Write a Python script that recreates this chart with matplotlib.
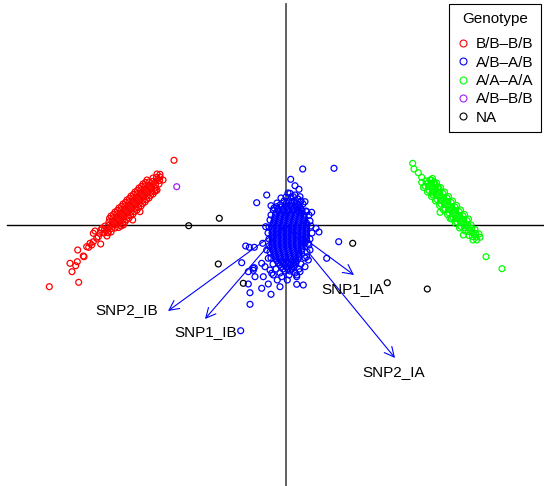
import matplotlib
matplotlib.use("Agg")
import matplotlib.pyplot as plt
from matplotlib.lines import Line2D

plt.rcParams['font.family'] = ['Liberation Sans', 'DejaVu Sans']

# ---- data: PC scores ----
red_x = [-1.82, -1.78, -1.74, -1.70, -1.66, -1.62, -1.58, -1.54, -1.50, -1.46, -1.42, -1.38, -1.34, -1.30, -1.26,
         -1.79, -1.75, -1.71, -1.67, -1.63, -1.59, -1.55, -1.51, -1.47, -1.43, -1.39, -1.35, -1.31, -1.27, -1.23,
         -1.85, -1.81, -1.77, -1.73, -1.69, -1.65, -1.61, -1.57, -1.53, -1.49, -1.45, -1.41, -1.37, -1.33, -1.29,
         -1.65, -1.61, -1.57, -1.53, -1.49, -1.45, -1.41, -1.37, -1.33, -1.29,
         -1.75, -1.71, -1.67, -1.63, -1.59, -1.55, -1.51, -1.47, -1.43, -1.39,
         -1.785, -1.745, -1.705, -1.665, -1.625, -1.585, -1.545, -1.505, -1.465, -1.425, -1.385, -1.345, -1.305, -1.265,
         -1.815, -1.775, -1.735, -1.695, -1.655, -1.615, -1.575, -1.535, -1.495, -1.455, -1.415, -1.375, -1.335, -1.295,
         -1.675, -1.635, -1.595, -1.555, -1.515, -1.475, -1.435, -1.395, -1.355, -1.315,
         -1.765, -1.725, -1.685, -1.645, -1.605, -1.565, -1.525, -1.485, -1.445, -1.405,
         -2.367, -2.073, -2.14, -2.103, -2.16, -2.087, -2.083, -2.027, -2.02, -1.973, -1.943, -1.927,
         -1.853, -1.91, -1.877, -1.84, -1.12, -1.26, -1.30, -1.46, -1.533, -1.627, -1.777,
         -1.927, -1.893, -1.96, -1.993, -1.86]
red_y = [-0.08, -0.04, 0.00, 0.04, 0.08, 0.12, 0.16, 0.20, 0.24, 0.28, 0.32, 0.36, 0.40, 0.44, 0.48,
         -0.11, -0.07, -0.03, 0.01, 0.05, 0.09, 0.13, 0.17, 0.21, 0.25, 0.29, 0.33, 0.37, 0.41, 0.45,
         -0.05, -0.01, 0.03, 0.07, 0.11, 0.15, 0.19, 0.23, 0.27, 0.31, 0.35, 0.39, 0.43, 0.47, 0.51,
         -0.01, 0.03, 0.07, 0.11, 0.15, 0.19, 0.23, 0.27, 0.31, 0.35,
         0.09, 0.13, 0.17, 0.21, 0.25, 0.29, 0.33, 0.37, 0.41, 0.45,
         -0.075, -0.035, 0.005, 0.045, 0.085, 0.125, 0.165, 0.205, 0.245, 0.285, 0.325, 0.365, 0.405, 0.445,
         -0.045, -0.005, 0.035, 0.075, 0.115, 0.155, 0.195, 0.235, 0.275, 0.315, 0.355, 0.395, 0.435, 0.475,
         -0.025, 0.015, 0.055, 0.095, 0.135, 0.175, 0.215, 0.255, 0.295, 0.335,
         0.065, 0.105, 0.145, 0.185, 0.225, 0.265, 0.305, 0.345, 0.385, 0.425,
         -0.617, -0.573, -0.467, -0.407, -0.383, -0.367, -0.25, -0.31, -0.317, -0.223, -0.20, -0.167,
         -0.19, -0.06, -0.117, -0.033, 0.647, 0.507, 0.343, 0.133, 0.05, 0.0, -0.077,
         -0.083, -0.133, -0.183, -0.217, -0.083]

blue_x = [-0.02, 0.03, 0.08,
          -0.06, -0.01, 0.04, 0.09, 0.13,
          -0.08, -0.03, 0.02, 0.07, 0.12, 0.15,
          -0.10, -0.05, 0.00, 0.05, 0.10, 0.15,
          -0.11, -0.06, -0.01, 0.04, 0.09, 0.14, 0.18,
          -0.12, -0.07, -0.02, 0.03, 0.08, 0.13, 0.18,
          -0.13, -0.08, -0.03, 0.02, 0.07, 0.12, 0.17, 0.21,
          -0.14, -0.09, -0.04, 0.01, 0.06, 0.11, 0.16, 0.20,
          -0.14, -0.09, -0.04, 0.01, 0.06, 0.11, 0.16, 0.20,
          -0.14, -0.09, -0.04, 0.01, 0.06, 0.11, 0.16, 0.20,
          -0.14, -0.09, -0.04, 0.01, 0.06, 0.11, 0.16, 0.19,
          -0.14, -0.09, -0.04, 0.01, 0.06, 0.11, 0.16,
          -0.13, -0.08, -0.03, 0.02, 0.07, 0.12, 0.16,
          -0.12, -0.07, -0.02, 0.03, 0.08, 0.13,
          -0.11, -0.06, -0.01, 0.04, 0.09, 0.13,
          -0.09, -0.04, 0.01, 0.06, 0.10,
          -0.06, -0.01, 0.04, 0.08,
          -0.03, 0.02, 0.06,
          0.005, 0.055, 0.105,
          -0.045, 0.005, 0.055, 0.105, 0.14,
          -0.075, -0.025, 0.025, 0.075, 0.125, 0.16,
          -0.105, -0.055, -0.005, 0.045, 0.095, 0.145, 0.18,
          -0.115, -0.065, -0.015, 0.035, 0.085, 0.135, 0.185,
          -0.125, -0.075, -0.025, 0.025, 0.075, 0.125, 0.175, 0.205,
          -0.135, -0.085, -0.035, 0.015, 0.065, 0.115, 0.165, 0.205,
          -0.135, -0.085, -0.035, 0.015, 0.065, 0.115, 0.165, 0.205,
          -0.135, -0.085, -0.035, 0.015, 0.065, 0.115, 0.165, 0.205,
          -0.135, -0.085, -0.035, 0.015, 0.065, 0.115, 0.165, 0.205,
          -0.135, -0.085, -0.035, 0.015, 0.065, 0.115, 0.165, 0.19,
          -0.135, -0.085, -0.035, 0.015, 0.065, 0.115, 0.16,
          -0.125, -0.075, -0.025, 0.025, 0.075, 0.125, 0.155,
          -0.115, -0.065, -0.015, 0.035, 0.085, 0.13,
          -0.10, -0.055, -0.005, 0.045, 0.095, 0.12,
          -0.075, -0.025, 0.025, 0.075, 0.10,
          -0.045, 0.005, 0.055, 0.08,
          -0.01, 0.04,
          0.00, 0.05, 0.09, 0.02,
          -0.05, 0.12, -0.09, 0.17, 0.15, -0.12, 0.20, 0.23, -0.15, -0.16, 0.24, -0.17, 0.25, 0.26, -0.18,
          -0.17, 0.24, 0.23, -0.17, -0.16, 0.21, 0.19, -0.15, -0.13, 0.15, 0.13, -0.10, -0.06, 0.09, 0.03,
          0.167, 0.48, 0.047, 0.09, 0.13, -0.193, -0.293, -0.15, 0.257, -0.203, 0.33, 0.30, 0.527,
          -0.403, -0.367, -0.317, -0.233, -0.443, 0.407, 0.107, 0.173, 0.107, -0.317, -0.377, -0.31,
          -0.227, -0.177, -0.243, -0.36, -0.377, -0.15, -0.06, -0.36, -0.453, -0.087, 0.013, -0.143,
          0.223, 0.207, 0.207, 0.19, 0.14, 0.073, 0.04, -0.093, -0.127, 0.24, 0.223, 0.19, 0.14,
          -0.193, -0.177, -0.21, -0.327, -0.243, -0.16, -0.127, -0.043, 0.107, -0.327]
blue_y = [0.24, 0.24, 0.24,
          0.20, 0.20, 0.20, 0.20, 0.20,
          0.16, 0.16, 0.16, 0.16, 0.16, 0.16,
          0.12, 0.12, 0.12, 0.12, 0.12, 0.12,
          0.08, 0.08, 0.08, 0.08, 0.08, 0.08, 0.08,
          0.04, 0.04, 0.04, 0.04, 0.04, 0.04, 0.04,
          0.00, 0.00, 0.00, 0.00, 0.00, 0.00, 0.00, 0.00,
          -0.04, -0.04, -0.04, -0.04, -0.04, -0.04, -0.04, -0.04,
          -0.08, -0.08, -0.08, -0.08, -0.08, -0.08, -0.08, -0.08,
          -0.12, -0.12, -0.12, -0.12, -0.12, -0.12, -0.12, -0.12,
          -0.16, -0.16, -0.16, -0.16, -0.16, -0.16, -0.16, -0.16,
          -0.20, -0.20, -0.20, -0.20, -0.20, -0.20, -0.20,
          -0.24, -0.24, -0.24, -0.24, -0.24, -0.24, -0.24,
          -0.28, -0.28, -0.28, -0.28, -0.28, -0.28,
          -0.32, -0.32, -0.32, -0.32, -0.32, -0.32,
          -0.36, -0.36, -0.36, -0.36, -0.36,
          -0.40, -0.40, -0.40, -0.40,
          -0.44, -0.44, -0.44,
          0.22, 0.22, 0.22,
          0.18, 0.18, 0.18, 0.18, 0.18,
          0.14, 0.14, 0.14, 0.14, 0.14, 0.14,
          0.10, 0.10, 0.10, 0.10, 0.10, 0.10, 0.10,
          0.06, 0.06, 0.06, 0.06, 0.06, 0.06, 0.06,
          0.02, 0.02, 0.02, 0.02, 0.02, 0.02, 0.02, 0.02,
          -0.02, -0.02, -0.02, -0.02, -0.02, -0.02, -0.02, -0.02,
          -0.06, -0.06, -0.06, -0.06, -0.06, -0.06, -0.06, -0.06,
          -0.10, -0.10, -0.10, -0.10, -0.10, -0.10, -0.10, -0.10,
          -0.14, -0.14, -0.14, -0.14, -0.14, -0.14, -0.14, -0.14,
          -0.18, -0.18, -0.18, -0.18, -0.18, -0.18, -0.18, -0.18,
          -0.22, -0.22, -0.22, -0.22, -0.22, -0.22, -0.22,
          -0.26, -0.26, -0.26, -0.26, -0.26, -0.26, -0.26,
          -0.30, -0.30, -0.30, -0.30, -0.30, -0.30,
          -0.34, -0.34, -0.34, -0.34, -0.34, -0.34,
          -0.38, -0.38, -0.38, -0.38, -0.38,
          -0.42, -0.42, -0.42, -0.42,
          -0.46, -0.46,
          0.28, 0.28, 0.30, 0.32,
          0.27, 0.26, 0.22, 0.21, 0.24, 0.17, 0.14, 0.10, 0.10, 0.05, 0.04, -0.02, -0.01, -0.08, -0.08,
          -0.14, -0.14, -0.20, -0.21, -0.27, -0.27, -0.33, -0.33, -0.39, -0.39, -0.44, -0.44, -0.48, -0.48, -0.50,
          0.56, 0.567, 0.457, 0.393, 0.357, 0.30, 0.223, 0.193, 0.127, -0.017, -0.07, -0.033, -0.167,
          -0.21, -0.223, -0.223, -0.183, -0.377, -0.333, -0.517, -0.60, -0.593, -0.427, -0.467, -0.517,
          -0.517, -0.59, -0.633, -0.677, -0.59, -0.693, -0.617, -0.793, -1.057, -0.55, -0.55, -0.483,
          -0.183, -0.317, 0.133, 0.233, 0.283, 0.283, 0.317, 0.183, 0.15, -0.25, -0.35, -0.417, -0.467,
          -0.25, -0.333, -0.417, -0.433, -0.383, -0.45, -0.50, -0.517, -0.50, -0.453]

green_x = [1.42, 1.46, 1.50, 1.54, 1.58, 1.62, 1.66, 1.70, 1.74, 1.78, 1.82, 1.86, 1.90,
           1.45, 1.49, 1.53, 1.57, 1.61, 1.65, 1.69, 1.73, 1.77, 1.81, 1.85, 1.89, 1.93,
           1.39, 1.43, 1.47, 1.51, 1.55, 1.59, 1.63, 1.67, 1.71, 1.75, 1.79, 1.83, 1.87,
           1.455, 1.495, 1.535, 1.575, 1.615, 1.655, 1.695, 1.735, 1.775, 1.815, 1.855, 1.895,
           1.425, 1.465, 1.505, 1.545, 1.585, 1.625, 1.665, 1.705, 1.745, 1.785, 1.825, 1.865,
           1.465, 1.505, 1.545, 1.585, 1.625, 1.665, 1.705, 1.745, 1.785, 1.825,
           1.375, 1.415, 1.455, 1.495, 1.535, 1.575, 1.615, 1.655, 1.695, 1.735,
           1.40, 1.44, 1.48, 1.52, 1.46,
           1.267, 1.28, 1.323, 1.357, 1.357, 1.54, 1.64, 1.773, 1.907, 1.94, 2.00, 2.16]
green_y = [0.42, 0.375, 0.33, 0.285, 0.24, 0.195, 0.15, 0.105, 0.06, 0.015, -0.03, -0.075, -0.12,
           0.45, 0.405, 0.36, 0.315, 0.27, 0.225, 0.18, 0.135, 0.09, 0.045, 0.00, -0.045, -0.09,
           0.39, 0.345, 0.30, 0.255, 0.21, 0.165, 0.12, 0.075, 0.03, -0.015, -0.06, -0.105, -0.15,
           0.415, 0.365, 0.325, 0.275, 0.235, 0.185, 0.145, 0.095, 0.055, 0.005, -0.035, -0.085,
           0.385, 0.335, 0.295, 0.245, 0.205, 0.155, 0.115, 0.065, 0.025, -0.025, -0.065, -0.115,
           0.465, 0.42, 0.375, 0.33, 0.285, 0.24, 0.195, 0.15, 0.105, 0.06,
           0.375, 0.33, 0.285, 0.24, 0.195, 0.15, 0.105, 0.06, 0.015, -0.03,
           0.44, 0.45, 0.43, 0.38, 0.32,
           0.617, 0.56, 0.523, 0.477, 0.427, 0.127, 0.067, -0.10, -0.15, -0.123, -0.317, -0.437]

purple_x = [-1.093]
purple_y = [0.383]

na_x = [-0.973, -0.667, -0.677, -0.427, 0.667, 1.013, 1.413]
na_y = [-0.007, 0.067, -0.39, -0.583, -0.183, -0.577, -0.64]

# loadings (arrow tips) and where their labels sit
snp_names = ['SNP2_IB', 'SNP1_IB', 'SNP1_IA', 'SNP2_IA']
snp_x = [-1.18, -0.81, 0.68, 1.09]
snp_y = [-0.86, -0.94, -0.50, -1.33]
lab_x = [-1.595, -0.805, 0.67, 1.08]
lab_y = [-0.855, -1.075, -0.64, -1.475]

genotypes = ['B/B\u2013B/B', 'A/B\u2013A/B', 'A/A\u2013A/A', 'A/B\u2013B/B', 'NA']
geno_cols = ['#FF0000', '#0000FF', '#00FF00', '#A020F0', '#000000']


fig = plt.figure(figsize=(5.44, 4.86), dpi=100)
ax = fig.add_axes([0, 0, 1, 1])
ax.set_xlim(-2.86, 2.58)
ax.set_ylim(-2.61, 2.25)
ax.axis('off')

# zero lines
ax.plot([-2.79, 2.58], [0, 0], color='black', lw=1.0, zorder=1)
ax.plot([0, 0], [-2.61, 2.21], color='#555555', lw=1.3, zorder=1)

pts = [(red_x, red_y), (blue_x, blue_y), (green_x, green_y),
       (purple_x, purple_y), (na_x, na_y)]
for (xs, ys), c in zip(pts, geno_cols):
    ax.scatter(xs, ys, s=18, facecolors='none', edgecolors=c,
               linewidths=0.9, zorder=2)

# loading arrows
for i in range(len(snp_names)):
    ax.annotate('', xy=(snp_x[i], snp_y[i]), xytext=(0, 0),
                arrowprops=dict(arrowstyle='->,head_length=0.7,head_width=0.35',
                                color='#0000FF', lw=0.8, shrinkA=0, shrinkB=0),
                zorder=3)
    ax.text(lab_x[i], lab_y[i], snp_names[i], ha='center', va='center',
            fontsize=11, color='black', zorder=4)

handles = [Line2D([], [], ls='', marker='o', ms=5, mfc='none', mec=c, mew=0.8)
           for c in geno_cols]
leg = ax.legend(handles, genotypes, title='Genotype', loc='upper right',
                bbox_to_anchor=(541 / 544, 1 - 4 / 486), borderaxespad=0,
                fontsize=11, title_fontsize=11, frameon=True, fancybox=False,
                edgecolor='black', framealpha=1, borderpad=0.5,
                handlelength=0.8, handletextpad=0.45, labelspacing=0.28)
leg.get_frame().set_linewidth(0.8)
leg._legend_box.sep = 8.5   # extra room under the title, as in R's legend

fig.savefig('out.png', dpi=100, facecolor='white')
